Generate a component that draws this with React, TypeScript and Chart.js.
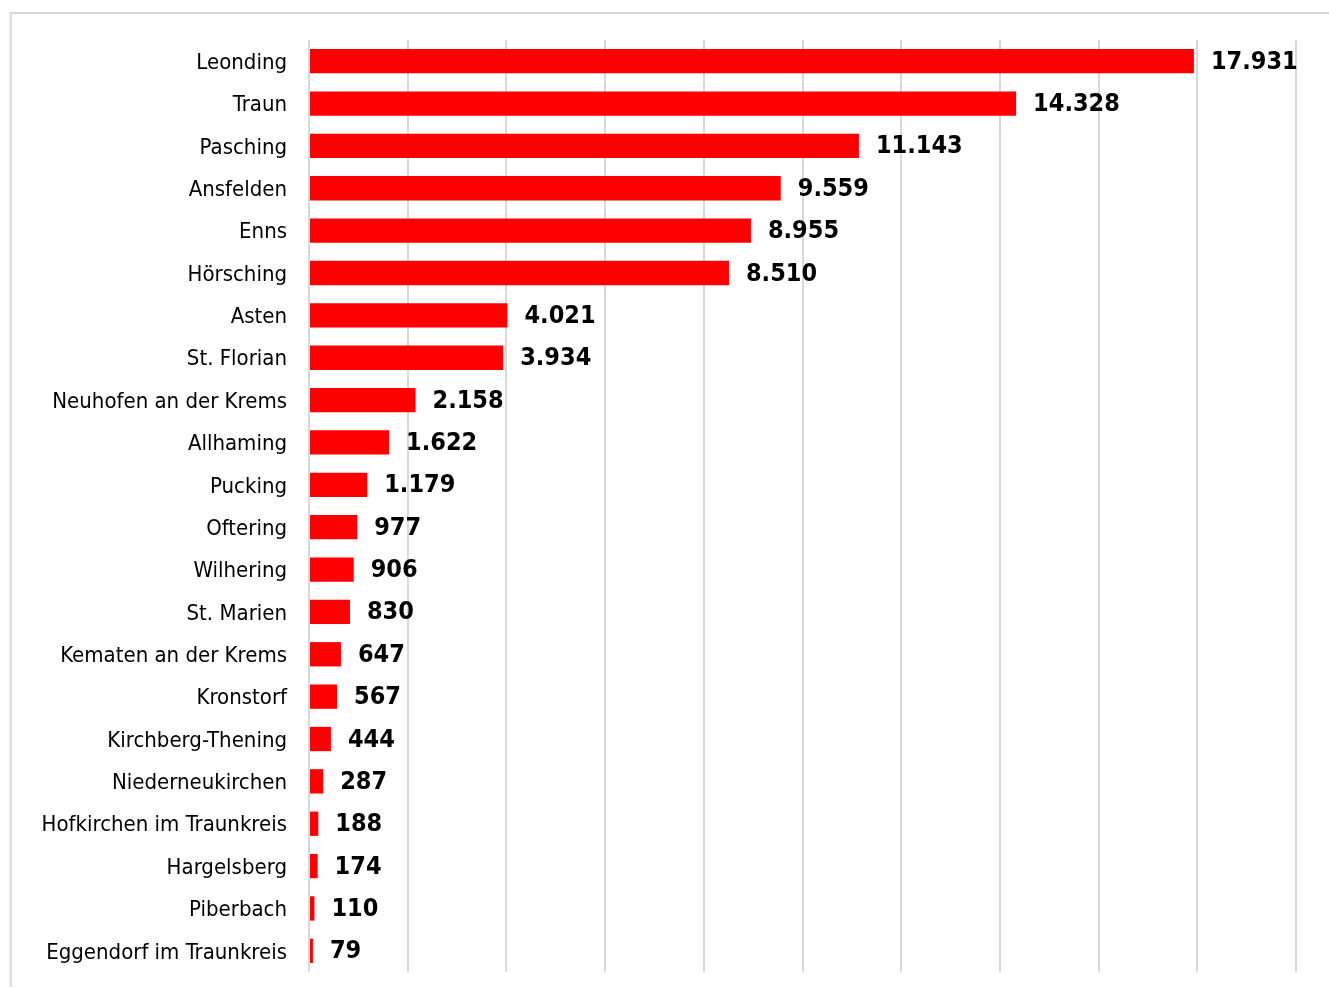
import React, { useEffect, useRef } from "react";
import { Chart, registerables } from "chart.js";

Chart.register(...registerables);

const municipalities = [
  "Leonding", "Traun", "Pasching", "Ansfelden", "Enns", "Hörsching", "Asten", "St. Florian",
  "Neuhofen an der Krems", "Allhaming", "Pucking", "Oftering", "Wilhering", "St. Marien",
  "Kematen an der Krems", "Kronstorf", "Kirchberg-Thening", "Niederneukirchen",
  "Hofkirchen im Traunkreis", "Hargelsberg", "Piberbach", "Eggendorf im Traunkreis",
];
const values = [
  17931, 14328, 11143, 9559, 8955, 8510, 4021, 3934, 2158, 1622, 1179, 977, 906, 830,
  647, 567, 444, 287, 188, 174, 110, 79,
];
const axisMin = 0;
const axisMax = 20000;
const axisStep = 2000;

const fmt = (v: number) => String(v).replace(/\B(?=(\d{3})+(?!\d))/g, ".");

const LABEL_FONT = '"DejaVu Sans Condensed", "DejaVu Sans", sans-serif';

const frame = {
  id: "frame",
  beforeDraw(chart: any) {
    const ctx = chart.ctx;
    ctx.save();
    ctx.strokeStyle = "#d9d9d9";
    ctx.lineWidth = 2;
    ctx.beginPath();
    ctx.moveTo(10.7, chart.height);
    ctx.lineTo(10.7, 13);
    ctx.lineTo(chart.width, 13);
    ctx.stroke();
    ctx.restore();
  },
};

const valueLabels = {
  id: "valueLabels",
  afterDatasetsDraw(chart: any) {
    const ctx = chart.ctx;
    const meta = chart.getDatasetMeta(0);
    ctx.save();
    ctx.fillStyle = "#000000";
    ctx.font = `bold 25px ${LABEL_FONT}`;
    ctx.textAlign = "left";
    ctx.textBaseline = "middle";
    meta.data.forEach((bar: any, i: number) => {
      ctx.fillText(fmt(values[i]), bar.x + 17, bar.y + 1);
    });
    ctx.restore();
  },
};

export default function App() {
  const ref = useRef<HTMLCanvasElement>(null);
  useEffect(() => {
    if (!ref.current) return;
    const chart = new Chart(ref.current, {
      type: "bar",
      data: {
        labels: municipalities,
        datasets: [
          {
            data: values,
            backgroundColor: "#ff0000",
            borderWidth: 0,
            barPercentage: 0.574,
            categoryPercentage: 1,
          },
        ],
      },
      options: {
        indexAxis: "y",
        responsive: false,
        animation: false,
        layout: { padding: { top: 40, bottom: 15, right: 33, left: 0 } },
        plugins: { legend: { display: false }, tooltip: { enabled: false } },
        scales: {
          x: {
            min: axisMin,
            max: axisMax,
            ticks: { display: false, stepSize: axisStep },
            grid: { color: "#d9d9d9", lineWidth: 2, drawTicks: false },
            border: { display: false },
            afterFit: (s: any) => {
              s.height = 0;
              s.paddingLeft = 0;
              s.paddingRight = 0;
              s.paddingTop = 0;
              s.paddingBottom = 0;
            },
          },
          y: {
            grid: { display: false, drawTicks: false },
            border: { display: false },
            ticks: {
              color: "#000000",
              padding: 22,
              labelOffset: 2,
              font: { family: LABEL_FONT, size: 22 },
            },
            afterFit: (s: any) => {
              s.width = 309;
              s.paddingTop = 0;
              s.paddingBottom = 0;
              s.paddingLeft = 0;
              s.paddingRight = 0;
            },
          },
        },
      },
      plugins: [frame, valueLabels],
    });
    return () => chart.destroy();
  }, []);
  return (
    <div style={{ position: "absolute", left: 0, top: 0, width: 1329, height: 987, background: "#fff" }}>
      <canvas ref={ref} width={1329} height={987} />
    </div>
  );
}
